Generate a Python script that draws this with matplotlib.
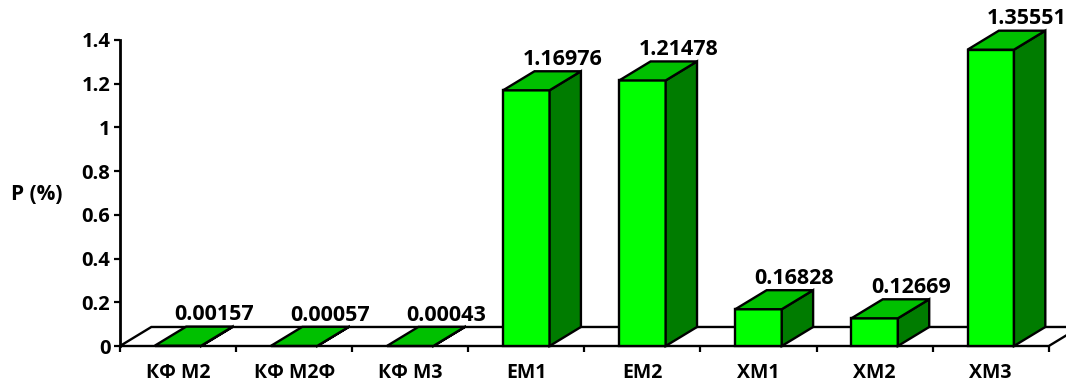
import matplotlib
matplotlib.use('Agg')
import matplotlib.pyplot as plt
from matplotlib.patches import Polygon

categories = ['КФ М2', 'КФ М2Ф', 'КФ М3', 'ЕМ1', 'ЕМ2', 'ХМ1', 'ХМ2', 'ХМ3']
values = [0.00157, 0.00057, 0.00043, 1.16976, 1.21478, 0.16828, 0.12669, 1.35551]
value_labels = ['0.00157', '0.00057', '0.00043', '1.16976', '1.21478', '0.16828', '0.12669', '1.35551']
yticks = [0, 0.2, 0.4, 0.6, 0.8, 1.0, 1.2, 1.4]
ytick_labels = ['0', '0.2', '0.4', '0.6', '0.8', '1', '1.2', '1.4']
ylabel = 'P (%)'

plt.rcParams['font.family'] = ['Open Sans', 'DejaVu Sans']
plt.rcParams['font.weight'] = 'bold'

FRONT = '#00FF00'
TOP = '#00C000'
SIDE = '#007C00'
LW = 1.7

W, H = 1066, 382
fig = plt.figure(figsize=(W / 100, H / 100), dpi=100)
ax = fig.add_axes([120 / W, 36 / H, 946 / W, 346 / H])
n = len(categories)
ax.set_xlim(0, 946 / 116.1)
ax.set_ylim(0, 346 / 218.6)

DX, DY = 0.27, 0.087  # depth offsets (data units)
BW = 0.4

# floor
floor = Polygon([(0, 0), (n, 0), (n + DX, DY), (DX, DY)], closed=True,
                facecolor='white', edgecolor='black', lw=LW, clip_on=False,
                zorder=1, joinstyle='miter')
ax.add_patch(floor)

for i, v in enumerate(values):
    c = i + 0.5
    l, r = c - BW / 2, c + BW / 2
    z = 2 + i * 0.01
    front = Polygon([(l, 0), (r, 0), (r, v), (l, v)], closed=True,
                    facecolor=FRONT, edgecolor='black', lw=LW, zorder=z,
                    clip_on=False, joinstyle='miter')
    top = Polygon([(l, v), (r, v), (r + DX, v + DY), (l + DX, v + DY)], closed=True,
                  facecolor=TOP, edgecolor='black', lw=LW, zorder=z,
                  clip_on=False, joinstyle='miter')
    side = Polygon([(r, 0), (r + DX, DY), (r + DX, v + DY), (r, v)], closed=True,
                   facecolor=SIDE, edgecolor='black', lw=LW, zorder=z,
                   clip_on=False, joinstyle='miter')
    for p in (front, side, top):
        ax.add_patch(p)
    ax.annotate(value_labels[i], xy=(c + 0.31, v + DY), xytext=(0, 4.5),
                textcoords='offset points', ha='center', va='baseline',
                fontsize=15.5, fontweight='bold', color='black',
                annotation_clip=False, zorder=5)

for s in ('top', 'right', 'bottom'):
    ax.spines[s].set_visible(False)
ax.spines['left'].set_bounds(0, 1.4)
ax.spines['left'].set_linewidth(2)

ax.set_yticks(yticks)
ax.set_yticklabels(ytick_labels, fontsize=14.5, fontweight='bold')
ax.tick_params(axis='y', direction='out', length=4, width=1.6, pad=3)

ax.set_xticks([i + 0.5 for i in range(n)])
ax.set_xticklabels(categories, fontsize=14, fontweight='bold')
ax.tick_params(axis='x', which='major', length=0, pad=12)
ax.set_xticks(list(range(n + 1)), minor=True)
ax.tick_params(axis='x', which='minor', direction='out', length=4.5, width=1.6)

fig.text(37 / W, 1 - 195 / H, ylabel, ha='center', va='center',
         fontsize=15, fontweight='bold')

fig.savefig('out.png', dpi=100)
